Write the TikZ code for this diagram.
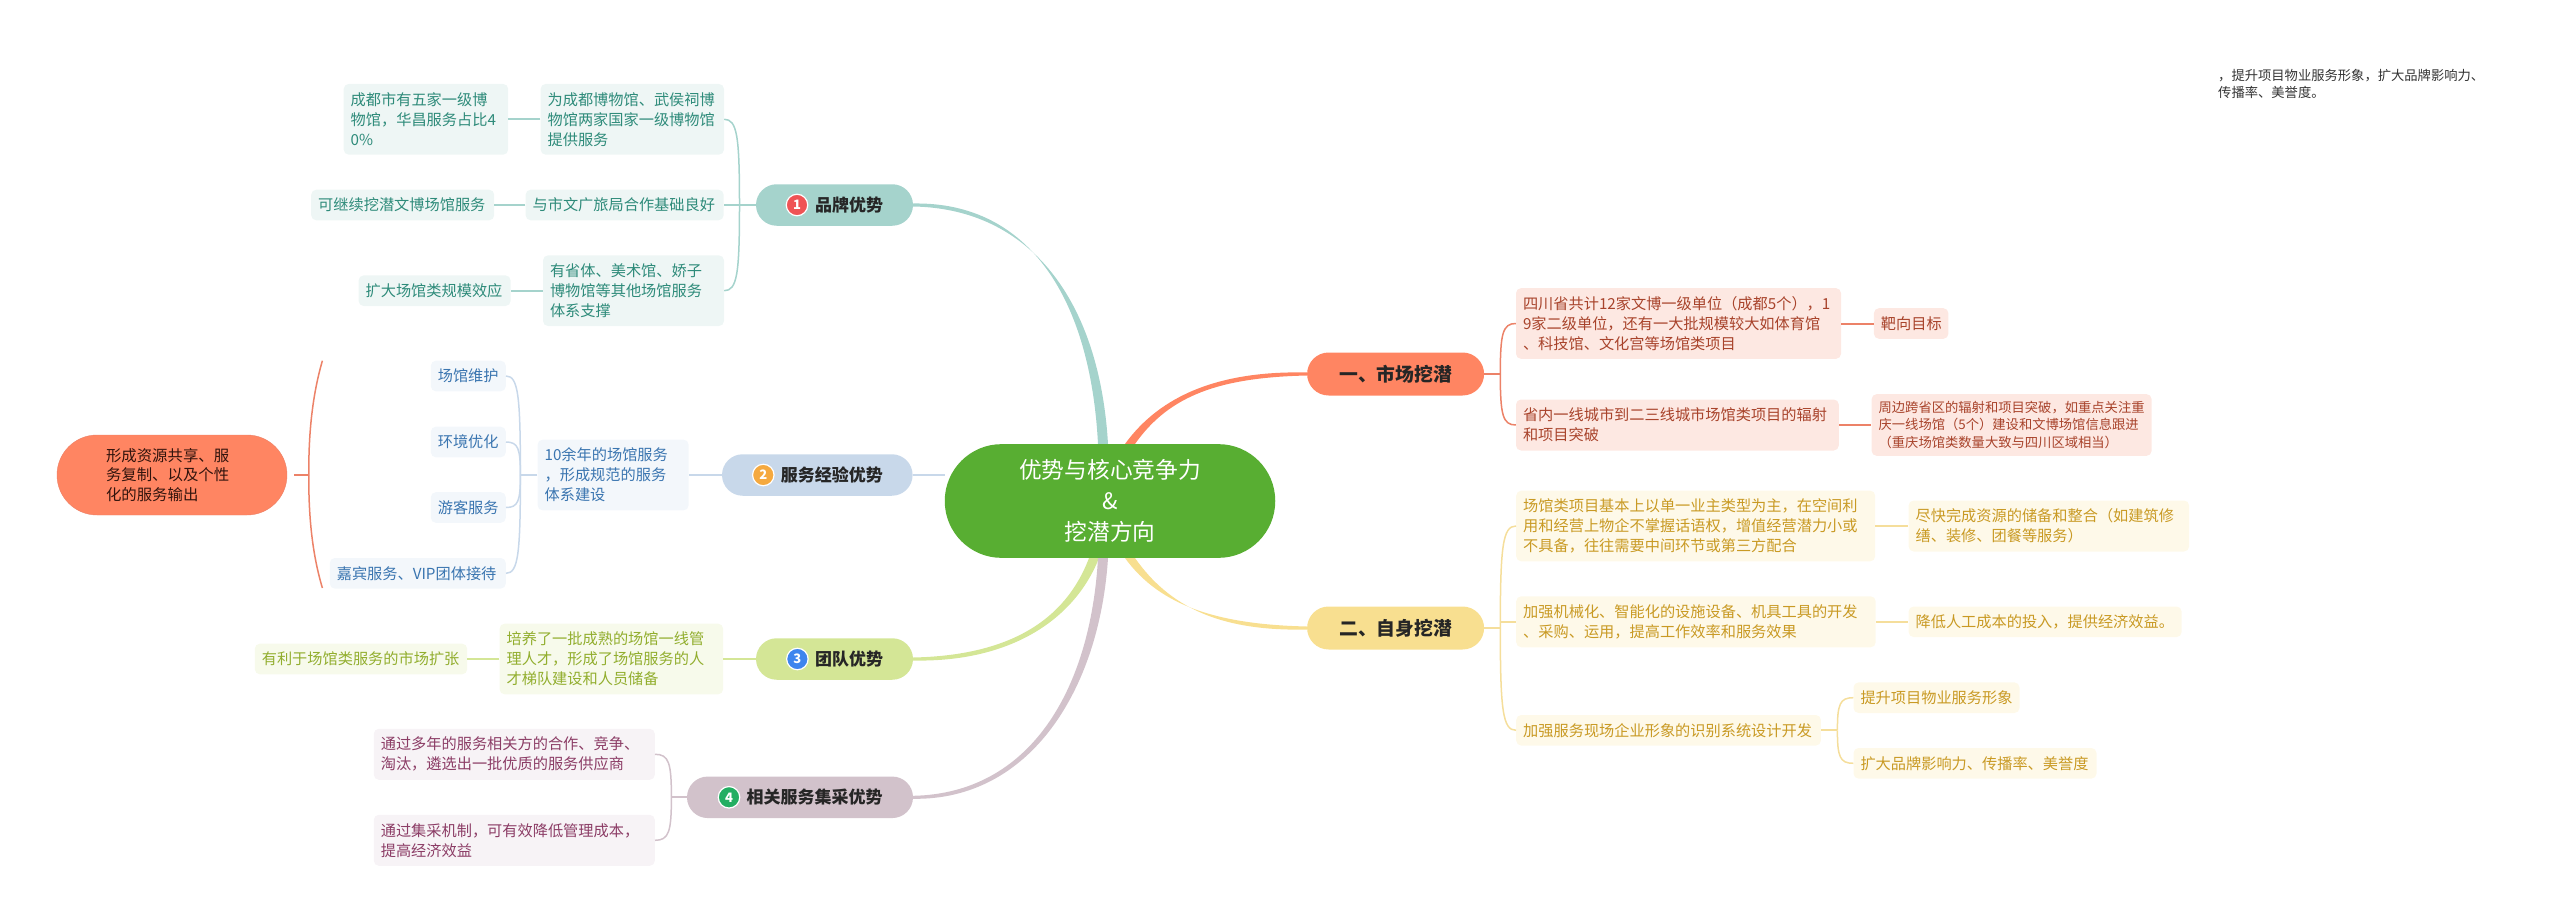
\documentclass[tikz,border=0pt]{standalone}
\usepackage{xcolor}
\usepackage{fontspec}
\setmainfont{Noto Sans CJK SC}
\usepackage{tikz}
\usetikzlibrary{positioning, calc}
\definecolor{rootgreen}{RGB}{88,174,50}
\definecolor{tealpill}{RGB}{165,211,204}
\definecolor{tealfill}{RGB}{238,246,245}
\definecolor{tealtext}{RGB}{46,139,122}
\definecolor{bluepill}{RGB}{200,216,234}
\definecolor{bluefill}{RGB}{243,247,251}
\definecolor{bluetext}{RGB}{58,117,176}
\definecolor{limepill}{RGB}{212,230,150}
\definecolor{limefill}{RGB}{247,250,235}
\definecolor{limetext}{RGB}{146,174,46}
\definecolor{mauvepill}{RGB}{210,194,203}
\definecolor{mauvefill}{RGB}{247,243,246}
\definecolor{mauvetext}{RGB}{140,61,102}
\definecolor{coralpill}{RGB}{255,133,98}
\definecolor{coralline}{RGB}{236,130,104}
\definecolor{coralfill}{RGB}{253,232,226}
\definecolor{coraltext}{RGB}{168,67,43}
\definecolor{sandpill}{RGB}{248,223,144}
\definecolor{sandline}{RGB}{245,222,155}
\definecolor{sandfill}{RGB}{254,249,233}
\definecolor{sandtext}{RGB}{201,154,36}
\definecolor{badgered}{RGB}{239,83,85}
\definecolor{badgeamber}{RGB}{245,169,63}
\definecolor{badgeblue}{RGB}{62,133,238}
\definecolor{badgegreen}{RGB}{35,174,98}
\tikzset{
  leaf/.style={rectangle, rounded corners=5pt, align=left, inner xsep=7pt,
    inner ysep=0pt, minimum height=30.6pt, font=\fontsize{15.2}{20}\selectfont},
  twoline/.style={minimum height=51pt},
  threeline/.style={minimum height=70.7pt},
  tealleaf/.style={leaf, fill=tealfill, text=tealtext},
  blueleaf/.style={leaf, fill=bluefill, text=bluetext},
  limeleaf/.style={leaf, fill=limefill, text=limetext},
  mauveleaf/.style={leaf, fill=mauvefill, text=mauvetext},
  coralleaf/.style={leaf, fill=coralfill, text=coraltext},
  sandleaf/.style={leaf, fill=sandfill, text=sandtext},
  pill/.style={rectangle, rounded corners=20.7pt, minimum height=41.5pt,
    inner sep=0pt, text=black!85, font=\fontsize{17}{20}\selectfont\bfseries},
  digpill/.style={pill, minimum width=177pt, minimum height=43pt,
    rounded corners=21.5pt, font=\fontsize{18.8}{22}\selectfont\bfseries},
  badge/.style={circle, draw=white, line width=1.2pt, minimum size=21.5pt,
    inner sep=0pt, text=white, font=\fontsize{13}{14}\selectfont\bfseries},
  tealbus/.style={draw=tealpill, line width=1.5pt},
  bluebus/.style={draw=bluepill, line width=1.5pt},
  limebus/.style={draw=limepill, line width=2pt},
  mauvebus/.style={draw=mauvepill, line width=1.5pt},
  coralbus/.style={draw=coralline, line width=1.5pt},
  sandbus/.style={draw=sandline, line width=1.5pt}
}
\newcommand{\hooklink}[3]{\draw[#1] (#2) .. controls ($(#2)!.8!(#2|-#3)$) and ($(#2|-#3)!.15!(#3)$) .. (#3);}
\newcommand{\taperlink}[6]{\fill[#1] ([xshift=#3pt-5pt]#2) .. controls ($(#4)+(-4.5pt,0)$) and ($(#5)+(0,3.5pt)$) .. ([yshift=1.5pt]#6)
  -- ([yshift=-1.5pt]#6) .. controls ($(#5)+(0,-3.5pt)$) and ($(#4)+(4.5pt,0)$) .. ([xshift=#3pt+5pt]#2) -- cycle;}

\begin{document}
\begin{tikzpicture}[x=1pt, y=-1pt]
  \useasboundingbox (0,0) rectangle (2560,923);

  % Root
  \node[rectangle, rounded corners=56.8pt, fill=rootgreen, text=white, align=center,
    minimum width=330.5pt, minimum height=113.7pt,
    font=\fontsize{22.7}{30.7}\selectfont] (root) at (1110,501) {优势与核心竞争力\\\&\\挖潜方向};

  % Brand
  \node[pill, fill=tealpill, minimum width=157pt] (brand) at (834.5,205) {\hspace*{29pt}品牌优势};
  \node[badge, fill=badgered] (brandno) at (797,205) {1};
  \node[tealleaf, threeline, text width=169.4pt] (museum) at (632.3,119.3) {为成都博物馆、武侯祠博\\物馆两家国家一级博物馆\\提供服务};
  \node[tealleaf, threeline, text width=150.5pt, left=32pt of museum] (share) {成都市有五家一级博\\物馆，华昌服务占比4\\0\%};
  \node[tealleaf, text width=184pt, left=32pt of brand] (partner) {与市文广旅局合作基础良好};
  \node[tealleaf, text width=169pt, left=31pt of partner] (tapmore) {可继续挖潜文博场馆服务};
  \node[tealleaf, threeline, text width=167pt] (system) at (633.5,290.7) {有省体、美术馆、娇子\\博物馆等其他场馆服务\\体系支撑};
  \node[tealleaf, text width=138pt, left=32pt of system] (scale) {扩大场馆类规模效应};
  \coordinate[left=16.3pt of brand] (brandbus);

  % Service
  \node[pill, fill=bluepill, minimum width=190.6pt] (service) at (817.3,475) {\hspace*{29pt}服务经验优势};
  \node[badge, fill=badgeamber] (serviceno) at (763.3,475) {2};
  \node[blueleaf, threeline, text width=137pt, left=33pt of service] (years) {10余年的场馆服务\\，形成规范的服务\\体系建设};
  \node[blueleaf, anchor=east, text width=61pt] (upkeep) at (506,376) {场馆维护};
  \node[blueleaf, anchor=east, text width=61pt] (setting) at (506,442) {环境优化};
  \node[blueleaf, anchor=east, text width=61pt] (visitor) at (506,507.5) {游客服务};
  \node[blueleaf, anchor=east, text width=162pt] (guest) at (506,573.3) {嘉宾服务、VIP团体接待};
  \coordinate[left=17pt of years] (yearsbus);
  \node[rectangle, rounded corners=40pt, fill=coralpill, draw=coralline, align=left, inner xsep=0pt, inner ysep=0pt,
    minimum width=230pt, minimum height=80pt, text width=132pt, text=black!70!coraltext,
    font=\fontsize{15.4}{19.5}\selectfont] (output) at (172,475) {形成资源共享、服\\务复制、以及个性\\化的服务输出};
  \coordinate[right=21.6pt of output] (outputbus);
  \coordinate (outputtop) at (322.4,360.7);
  \coordinate (outputend) at (322.4,588);

  % Team
  \node[pill, fill=limepill, minimum width=157pt] (team) at (834.5,659) {\hspace*{29pt}团队优势};
  \node[badge, fill=badgeblue] (teamno) at (797.4,659) {3};
  \node[limeleaf, threeline, text width=209.5pt, left=32.5pt of team] (talent) {培养了一批成熟的场馆一线管\\理人才，形成了场馆服务的人\\才梯队建设和人员储备};
  \node[limeleaf, text width=198.4pt, left=32pt of talent] (expand) {有利于场馆类服务的市场扩张};

  % Supply
  \node[pill, fill=mauvepill, minimum width=226pt] (supply) at (800,797.3) {\hspace*{29pt}相关服务集采优势};
  \node[badge, fill=badgegreen] (supplyno) at (729,797.3) {4};
  \node[mauveleaf, twoline, text width=267pt, anchor=east] (vendor) at (655,754.3) {通过多年的服务相关方的合作、竞争、\\淘汰，遴选出一批优质的服务供应商};
  \node[mauveleaf, twoline, text width=267pt, anchor=east] (pooling) at (655,840.3) {通过集采机制，可有效降低管理成本，\\提高经济效益};
  \coordinate[left=15.4pt of supply] (supplybus);

  % Market
  \node[digpill, fill=coralpill] (market) at (1395.6,374) {一、市场挖潜};
  \node[coralleaf, threeline, text width=311pt, anchor=west] (sichuan) at (1515.8,323.5) {四川省共计12家文博一级单位（成都5个），1\\9家二级单位，还有一大批规模较大如体育馆\\、科技馆、文化宫等场馆类项目};
  \node[coralleaf, text width=60.5pt, right=32.5pt of sichuan] (target) {靶向目标};
  \node[coralleaf, twoline, text width=308.8pt, anchor=west] (citytier) at (1515.8,425) {省内一线城市到二三线城市场馆类项目的辐射\\和项目突破};
  \node[coralleaf, minimum height=61.7pt, text width=266pt, right=32.4pt of citytier,
    font=\fontsize{13.3}{17.2}\selectfont] (cross) {周边跨省区的辐射和项目突破，如重点关注重\\庆一线场馆（5个）建设和文博场馆信息跟进\\（重庆场馆类数量大致与四川区域相当）};
  \coordinate[right=16pt of market] (marketbus);

  % Self
  \node[digpill, fill=sandpill] (selfdig) at (1395.6,628) {二、自身挖潜};
  \node[sandleaf, threeline, text width=345pt, anchor=west] (venue) at (1516,526) {场馆类项目基本上以单一业主类型为主，在空间利\\用和经营上物企不掌握话语权，增值经营潜力小或\\不具备，往往需要中间环节或第三方配合};
  \node[sandleaf, twoline, text width=266.5pt, right=33pt of venue] (ready) {尽快完成资源的储备和整合（如建筑修\\缮、装修、团餐等服务）};
  \node[sandleaf, twoline, text width=345.5pt, anchor=west] (mech) at (1516,621.8) {加强机械化、智能化的设施设备、机具工具的开发\\、采购、运用，提高工作效率和服务效果};
  \node[sandleaf, text width=259pt, right=32.5pt of mech] (cost) {降低人工成本的投入，提供经济效益。};
  \node[sandleaf, text width=290.7pt, anchor=west] (design) at (1516,730.3) {加强服务现场企业形象的识别系统设计开发};
  \node[sandleaf, text width=152pt, anchor=west] (image) at (1853.3,697.7) {提升项目物业服务形象};
  \node[sandleaf, text width=229pt, anchor=west] (reach) at (1853.3,763.3) {扩大品牌影响力、传播率、美誉度};
  \coordinate[right=16pt of selfdig] (selfbus);
  \coordinate[right=16.3pt of design] (designbus);

  % Note
  \node[anchor=west, align=left, inner sep=0pt, text=black!80, text width=262pt,
    font=\fontsize{13.3}{17.6}\selectfont] (note) at (2218,84) {，提升项目物业服务形象，扩大品牌影响力、\\传播率、美誉度。};

  % Main branches
  \taperlink{tealpill}{root.north}{-7}{1095,300}{1030,205}{brand.east}
  \taperlink{coralpill}{root.north}{20}{1165,395}{1220,374}{market.west}
  \taperlink{sandpill}{root.south}{20}{1165,607}{1220,628}{selfdig.west}
  \taperlink{limepill}{root.south}{-16}{1070,620}{1010,659}{team.east}
  \taperlink{mauvepill}{root.south}{-7}{1095,690}{1030,797}{supply.east}
  \draw[bluepill, line width=2.5pt] (service.east) -- (service.east-|root.west);

  % Brand links
  \draw[tealbus] (brand.west) -- (partner.east);
  \hooklink{tealbus}{brandbus}{museum.east}
  \hooklink{tealbus}{brandbus}{system.east}
  \draw[tealpill, line width=2pt] (museum.west) -- (share.east);
  \draw[tealpill, line width=2pt] (partner.west) -- (tapmore.east);
  \draw[tealpill, line width=2pt] (system.west) -- (scale.east);

  % Service links
  \draw[bluepill, line width=2pt] (service.west) -- (years.east);
  \draw[bluepill, line width=2pt] (years.west) -- (yearsbus);
  \hooklink{bluebus}{yearsbus}{upkeep.east}
  \hooklink{bluebus}{yearsbus}{setting.east}
  \hooklink{bluebus}{yearsbus}{visitor.east}
  \hooklink{bluebus}{yearsbus}{guest.east}
  \draw[coralline, line width=2pt] ([xshift=7pt]output.east) -- (outputbus);
  \draw[coralbus] (outputtop) .. controls (311,400) and (308.6,440) .. (outputbus);
  \draw[coralbus] (outputend) .. controls (311,550) and (308.6,510) .. (outputbus);

  % Team links
  \draw[limebus] (team.west) -- (talent.east);
  \draw[limebus] (talent.west) -- (expand.east);

  % Supply links
  \draw[mauvepill, line width=2pt] (supply.west) -- (supplybus);
  \hooklink{mauvebus}{supplybus}{vendor.east}
  \hooklink{mauvebus}{supplybus}{pooling.east}

  % Market links
  \draw[coralline, line width=2pt] (market.east) -- (marketbus);
  \hooklink{coralbus}{marketbus}{sichuan.west}
  \hooklink{coralbus}{marketbus}{citytier.west}
  \draw[coralline, line width=2pt] (sichuan.east) -- (target.west);
  \draw[coralline, line width=2pt] (citytier.east) -- (cross.west);

  % Self links
  \draw[sandline, line width=2pt] (selfdig.east) -- (selfbus);
  \hooklink{sandbus}{selfbus}{venue.west}
  \hooklink{sandbus}{selfbus}{design.west}
  \draw[sandbus] (selfbus|-mech.west) -- (mech.west);
  \draw[sandline, line width=2pt] (venue.east) -- (ready.west);
  \draw[sandline, line width=2pt] (mech.east) -- (cost.west);
  \draw[sandline, line width=2pt] (design.east) -- (designbus);
  \hooklink{sandbus}{designbus}{image.west}
  \hooklink{sandbus}{designbus}{reach.west}
\end{tikzpicture}
\end{document}
